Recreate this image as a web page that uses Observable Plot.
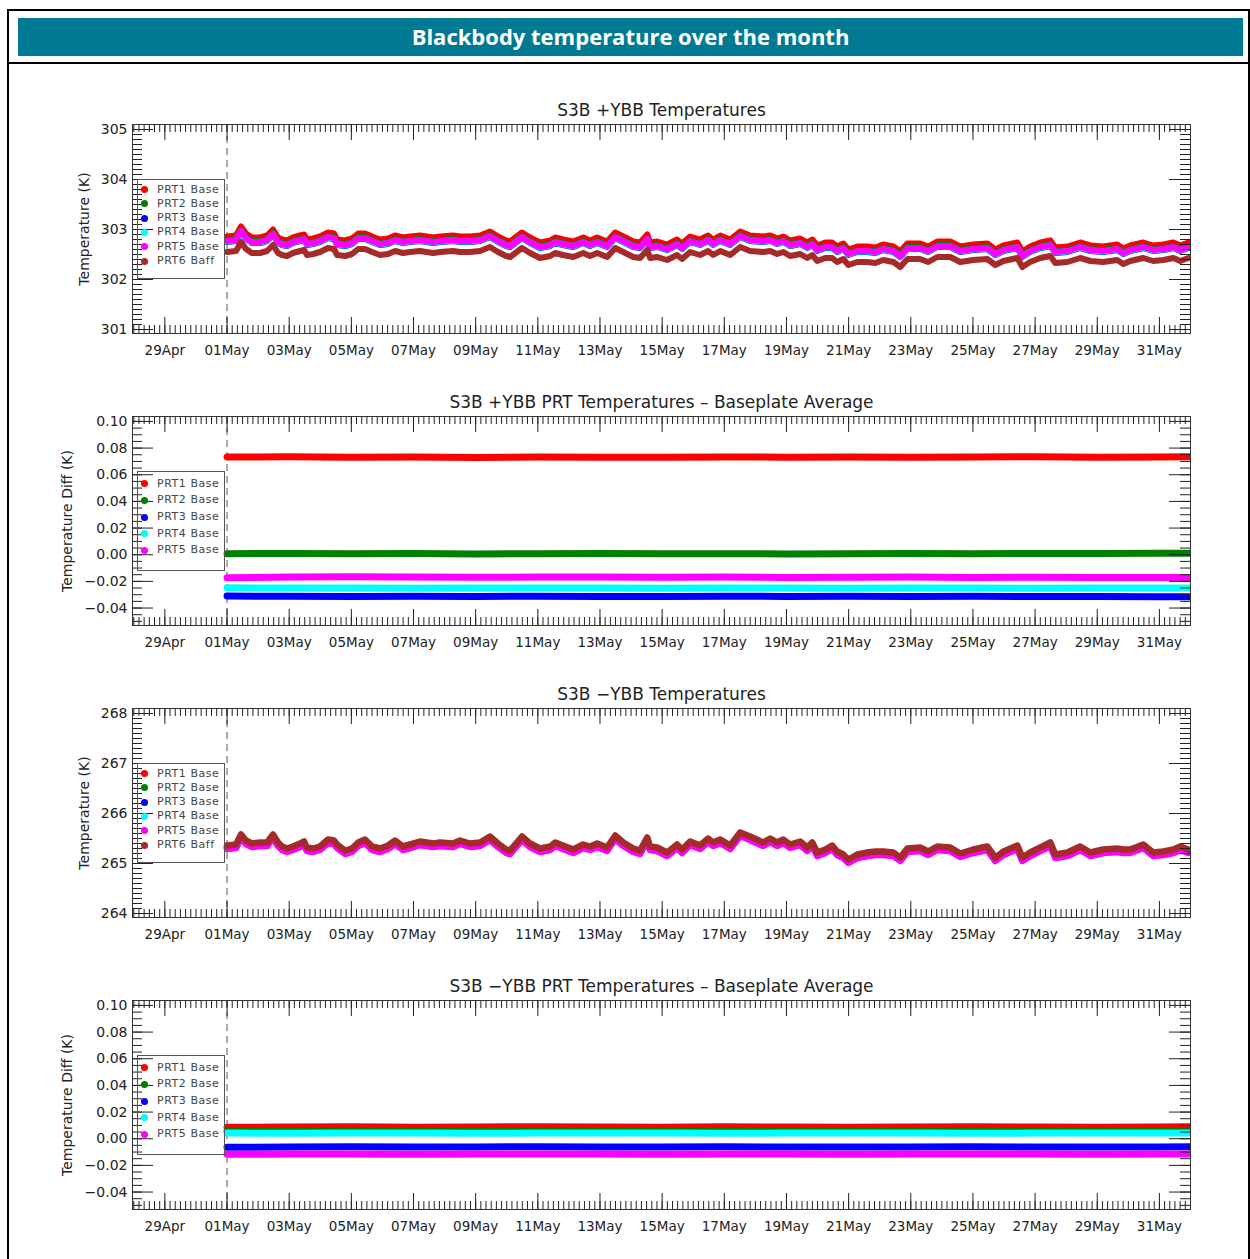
<!DOCTYPE html>
<html>
<head>
<meta charset="utf-8">
<script src="https://cdn.jsdelivr.net/npm/d3@7"></script>
<script src="https://cdn.jsdelivr.net/npm/@observablehq/plot@0.6"></script>
<style>
  body { margin: 0; background: #fff; }
  #page { position: relative; width: 1250px; height: 1259px; overflow: hidden; font-family: "DejaVu Sans", sans-serif; background: #fff; }
  #outer { position: absolute; left: 7px; top: 9px; width: 1243px; height: 1320px; border: 2px solid #000; box-sizing: border-box; }
  #banner { position: absolute; left: 18px; top: 18px; width: 1225px; height: 38px; background: #007a93; color: #fff;
            font-family: "Open Sans", sans-serif; font-weight: 700; font-size: 22px; line-height: 37px; text-align: center; }
  #hline { position: absolute; left: 7px; top: 62px; width: 1243px; height: 2px; background: #000; }
  .panel { position: absolute; left: 0; width: 1250px; }
  .panel svg { display: block; }
  .legend { position: absolute; border: 1px solid #555; box-sizing: border-box; }
  .legend .dot { position: absolute; width: 7px; height: 7px; border-radius: 50%; }
  .legend .lab { position: absolute; font-family: "DejaVu Sans", sans-serif; font-size: 11px; color: #444; letter-spacing: 0.55px; white-space: pre; line-height: 12px; }
</style>
</head>
<body>
<div id="page">
  <div id="outer"></div>
  <div id="banner">Blackbody temperature over the month</div>
  <div id="hline"></div>
</div>
<script>
// ---------- DATA ----------
// sample times, in days of May (1.00 = 01 May 00:00)
const days = [
  1.00, 1.29, 1.45, 1.61, 1.80, 2.06, 2.29, 2.48, 2.64, 2.77,
  2.93, 3.12, 3.35, 3.48, 3.57, 3.77, 3.99, 4.25, 4.44, 4.54,
  4.80, 5.02, 5.22, 5.44, 5.67, 5.92, 6.18, 6.41, 6.66, 6.89,
  7.21, 7.63, 7.86, 8.27, 8.50, 8.82, 9.14, 9.46, 9.72, 9.98,
  10.11, 10.49, 10.75, 11.07, 11.40, 11.56, 11.81, 12.14, 12.46, 12.68,
  12.91, 13.23, 13.49, 13.75, 14.07, 14.29, 14.52, 14.61, 14.84, 15.16,
  15.48, 15.64, 15.90, 16.22, 16.48, 16.64, 16.87, 17.19, 17.51, 17.83,
  18.25, 18.48, 18.70, 18.90, 19.12, 19.44, 19.67, 19.83, 19.99, 20.25,
  20.47, 20.63, 20.83, 20.99, 21.28, 21.60, 21.86, 22.11, 22.44, 22.66,
  22.89, 23.30, 23.56, 23.85, 24.27, 24.59, 25.01, 25.46, 25.72, 25.98,
  26.43, 26.59, 26.84, 27.17, 27.49, 27.65, 28.04, 28.45, 28.78, 29.19,
  29.64, 29.84, 30.06, 30.48, 30.80, 31.13, 31.45, 31.67, 31.93
];

// +YBB temperatures (K)
const pYBB_PRT1 = [
  302.86, 302.88, 303.06, 302.92, 302.84, 302.84, 302.88, 303.00, 302.84, 302.80,
  302.78, 302.84, 302.88, 302.90, 302.80, 302.82, 302.86, 302.94, 302.92, 302.80,
  302.78, 302.82, 302.92, 302.92, 302.86, 302.80, 302.82, 302.88, 302.84, 302.86,
  302.88, 302.84, 302.86, 302.88, 302.86, 302.86, 302.88, 302.96, 302.86, 302.78,
  302.76, 302.94, 302.84, 302.74, 302.78, 302.84, 302.80, 302.76, 302.84, 302.78,
  302.84, 302.76, 302.94, 302.86, 302.76, 302.74, 302.90, 302.74, 302.76, 302.70,
  302.80, 302.72, 302.86, 302.80, 302.88, 302.80, 302.88, 302.80, 302.96, 302.88,
  302.86, 302.88, 302.82, 302.86, 302.78, 302.82, 302.74, 302.80, 302.68, 302.74,
  302.74, 302.66, 302.72, 302.60, 302.66, 302.66, 302.64, 302.70, 302.66, 302.56,
  302.72, 302.72, 302.66, 302.76, 302.76, 302.66, 302.70, 302.72, 302.60, 302.68,
  302.74, 302.56, 302.66, 302.74, 302.78, 302.64, 302.66, 302.74, 302.68, 302.66,
  302.70, 302.62, 302.68, 302.74, 302.68, 302.70, 302.74, 302.68, 302.74
];
const pYBB_PRT2 = [
  302.79, 302.81, 302.99, 302.85, 302.77, 302.77, 302.81, 302.93, 302.77, 302.73,
  302.71, 302.77, 302.81, 302.83, 302.73, 302.75, 302.79, 302.87, 302.85, 302.73,
  302.71, 302.75, 302.85, 302.85, 302.79, 302.73, 302.75, 302.81, 302.77, 302.79,
  302.81, 302.77, 302.79, 302.81, 302.79, 302.79, 302.81, 302.89, 302.79, 302.71,
  302.69, 302.87, 302.77, 302.67, 302.71, 302.77, 302.73, 302.69, 302.77, 302.71,
  302.77, 302.69, 302.87, 302.79, 302.69, 302.67, 302.83, 302.67, 302.69, 302.63,
  302.73, 302.65, 302.79, 302.73, 302.81, 302.73, 302.81, 302.73, 302.89, 302.81,
  302.79, 302.81, 302.75, 302.79, 302.71, 302.75, 302.67, 302.73, 302.61, 302.67,
  302.67, 302.59, 302.65, 302.53, 302.59, 302.59, 302.57, 302.63, 302.59, 302.49,
  302.65, 302.65, 302.59, 302.69, 302.69, 302.59, 302.63, 302.65, 302.53, 302.61,
  302.67, 302.49, 302.59, 302.67, 302.71, 302.57, 302.59, 302.67, 302.61, 302.59,
  302.63, 302.55, 302.61, 302.67, 302.61, 302.63, 302.67, 302.61, 302.67
];
const pYBB_PRT3 = [
  302.75, 302.77, 302.95, 302.81, 302.73, 302.73, 302.77, 302.89, 302.73, 302.69,
  302.67, 302.73, 302.77, 302.79, 302.69, 302.71, 302.75, 302.83, 302.81, 302.69,
  302.67, 302.71, 302.81, 302.81, 302.75, 302.69, 302.71, 302.77, 302.73, 302.75,
  302.77, 302.73, 302.75, 302.77, 302.75, 302.75, 302.77, 302.85, 302.75, 302.67,
  302.65, 302.83, 302.73, 302.63, 302.67, 302.73, 302.69, 302.65, 302.73, 302.67,
  302.73, 302.65, 302.83, 302.75, 302.65, 302.63, 302.79, 302.63, 302.65, 302.59,
  302.69, 302.61, 302.75, 302.69, 302.77, 302.69, 302.77, 302.69, 302.85, 302.77,
  302.75, 302.77, 302.71, 302.75, 302.67, 302.71, 302.63, 302.69, 302.57, 302.63,
  302.63, 302.55, 302.61, 302.49, 302.55, 302.55, 302.53, 302.59, 302.55, 302.45,
  302.61, 302.61, 302.55, 302.65, 302.65, 302.55, 302.59, 302.61, 302.49, 302.57,
  302.63, 302.45, 302.55, 302.63, 302.67, 302.53, 302.55, 302.63, 302.57, 302.55,
  302.59, 302.51, 302.57, 302.63, 302.57, 302.59, 302.63, 302.57, 302.63
];
const pYBB_PRT4 = [
  302.76, 302.78, 302.96, 302.82, 302.74, 302.74, 302.78, 302.90, 302.74, 302.70,
  302.68, 302.74, 302.78, 302.80, 302.70, 302.72, 302.76, 302.84, 302.82, 302.70,
  302.68, 302.72, 302.82, 302.82, 302.76, 302.70, 302.72, 302.78, 302.74, 302.76,
  302.78, 302.74, 302.76, 302.78, 302.76, 302.76, 302.78, 302.86, 302.76, 302.68,
  302.66, 302.84, 302.74, 302.64, 302.68, 302.74, 302.70, 302.66, 302.74, 302.68,
  302.74, 302.66, 302.84, 302.76, 302.66, 302.64, 302.80, 302.64, 302.66, 302.60,
  302.70, 302.62, 302.76, 302.70, 302.78, 302.70, 302.78, 302.70, 302.86, 302.78,
  302.76, 302.78, 302.72, 302.76, 302.68, 302.72, 302.64, 302.70, 302.58, 302.64,
  302.64, 302.56, 302.62, 302.50, 302.56, 302.56, 302.54, 302.60, 302.56, 302.46,
  302.62, 302.62, 302.56, 302.66, 302.66, 302.56, 302.60, 302.62, 302.50, 302.58,
  302.64, 302.46, 302.56, 302.64, 302.68, 302.54, 302.56, 302.64, 302.58, 302.56,
  302.60, 302.52, 302.58, 302.64, 302.58, 302.60, 302.64, 302.58, 302.64
];
const pYBB_PRT5 = [
  302.77, 302.79, 302.97, 302.83, 302.75, 302.75, 302.79, 302.91, 302.75, 302.71,
  302.69, 302.75, 302.79, 302.81, 302.71, 302.73, 302.77, 302.85, 302.83, 302.71,
  302.69, 302.73, 302.83, 302.83, 302.77, 302.71, 302.73, 302.79, 302.75, 302.77,
  302.79, 302.75, 302.77, 302.79, 302.77, 302.77, 302.79, 302.87, 302.77, 302.69,
  302.67, 302.85, 302.75, 302.65, 302.69, 302.75, 302.71, 302.67, 302.75, 302.69,
  302.75, 302.67, 302.85, 302.77, 302.67, 302.65, 302.81, 302.65, 302.67, 302.61,
  302.71, 302.63, 302.77, 302.71, 302.79, 302.71, 302.79, 302.71, 302.87, 302.79,
  302.77, 302.79, 302.73, 302.77, 302.69, 302.73, 302.65, 302.71, 302.59, 302.65,
  302.65, 302.57, 302.63, 302.51, 302.57, 302.57, 302.55, 302.61, 302.57, 302.47,
  302.63, 302.63, 302.57, 302.67, 302.67, 302.57, 302.61, 302.63, 302.51, 302.59,
  302.65, 302.47, 302.57, 302.65, 302.69, 302.55, 302.57, 302.65, 302.59, 302.57,
  302.61, 302.53, 302.59, 302.65, 302.59, 302.61, 302.65, 302.59, 302.65
];
const pYBB_PRT6 = [
  302.55, 302.57, 302.75, 302.61, 302.53, 302.53, 302.57, 302.69, 302.53, 302.49,
  302.47, 302.53, 302.57, 302.59, 302.49, 302.51, 302.55, 302.63, 302.61, 302.49,
  302.47, 302.51, 302.61, 302.61, 302.55, 302.49, 302.51, 302.57, 302.53, 302.55,
  302.57, 302.53, 302.55, 302.57, 302.55, 302.55, 302.57, 302.65, 302.55, 302.47,
  302.45, 302.63, 302.53, 302.43, 302.47, 302.53, 302.49, 302.45, 302.53, 302.47,
  302.53, 302.45, 302.63, 302.55, 302.45, 302.43, 302.59, 302.43, 302.45, 302.39,
  302.49, 302.41, 302.55, 302.49, 302.57, 302.49, 302.57, 302.49, 302.65, 302.57,
  302.55, 302.57, 302.51, 302.55, 302.47, 302.51, 302.43, 302.49, 302.37, 302.43,
  302.43, 302.35, 302.41, 302.29, 302.35, 302.35, 302.33, 302.39, 302.35, 302.25,
  302.41, 302.41, 302.35, 302.45, 302.45, 302.35, 302.39, 302.41, 302.29, 302.37,
  302.43, 302.25, 302.35, 302.43, 302.47, 302.33, 302.35, 302.43, 302.37, 302.35,
  302.39, 302.31, 302.37, 302.43, 302.37, 302.39, 302.43, 302.37, 302.43
];

// -YBB temperatures (K)
const mYBB_PRT1 = [
  265.33, 265.35, 265.55, 265.43, 265.37, 265.39, 265.39, 265.55, 265.39, 265.31,
  265.27, 265.31, 265.37, 265.41, 265.29, 265.27, 265.31, 265.45, 265.43, 265.35,
  265.23, 265.27, 265.39, 265.45, 265.31, 265.27, 265.33, 265.43, 265.31, 265.35,
  265.41, 265.37, 265.39, 265.37, 265.43, 265.37, 265.39, 265.51, 265.37, 265.25,
  265.23, 265.51, 265.37, 265.27, 265.31, 265.39, 265.33, 265.25, 265.35, 265.31,
  265.37, 265.29, 265.53, 265.39, 265.27, 265.23, 265.49, 265.31, 265.29, 265.19,
  265.35, 265.25, 265.41, 265.33, 265.47, 265.39, 265.45, 265.33, 265.59, 265.51,
  265.39, 265.47, 265.39, 265.45, 265.35, 265.41, 265.29, 265.39, 265.19, 265.25,
  265.33, 265.21, 265.15, 265.05, 265.15, 265.19, 265.21, 265.21, 265.19, 265.09,
  265.27, 265.29, 265.21, 265.31, 265.29, 265.17, 265.25, 265.31, 265.09, 265.21,
  265.33, 265.09, 265.19, 265.29, 265.39, 265.15, 265.19, 265.31, 265.19, 265.25,
  265.27, 265.25, 265.25, 265.35, 265.19, 265.21, 265.25, 265.31, 265.25
];
const mYBB_PRT2 = [
  265.32, 265.34, 265.54, 265.42, 265.36, 265.38, 265.38, 265.54, 265.38, 265.30,
  265.26, 265.30, 265.36, 265.40, 265.28, 265.26, 265.30, 265.44, 265.42, 265.34,
  265.22, 265.26, 265.38, 265.44, 265.30, 265.26, 265.32, 265.42, 265.30, 265.34,
  265.40, 265.36, 265.38, 265.36, 265.42, 265.36, 265.38, 265.50, 265.36, 265.24,
  265.22, 265.50, 265.36, 265.26, 265.30, 265.38, 265.32, 265.24, 265.34, 265.30,
  265.36, 265.28, 265.52, 265.38, 265.26, 265.22, 265.48, 265.30, 265.28, 265.18,
  265.34, 265.24, 265.40, 265.32, 265.46, 265.38, 265.44, 265.32, 265.58, 265.50,
  265.38, 265.46, 265.38, 265.44, 265.34, 265.40, 265.28, 265.38, 265.18, 265.24,
  265.32, 265.20, 265.14, 265.04, 265.14, 265.18, 265.20, 265.20, 265.18, 265.08,
  265.26, 265.28, 265.20, 265.30, 265.28, 265.16, 265.24, 265.30, 265.08, 265.20,
  265.32, 265.08, 265.18, 265.28, 265.38, 265.14, 265.18, 265.30, 265.18, 265.24,
  265.26, 265.24, 265.24, 265.34, 265.18, 265.20, 265.24, 265.30, 265.24
];
const mYBB_PRT3 = [
  265.30, 265.32, 265.52, 265.40, 265.34, 265.36, 265.36, 265.52, 265.36, 265.28,
  265.24, 265.28, 265.34, 265.38, 265.26, 265.24, 265.28, 265.42, 265.40, 265.32,
  265.20, 265.24, 265.36, 265.42, 265.28, 265.24, 265.30, 265.40, 265.28, 265.32,
  265.38, 265.34, 265.36, 265.34, 265.40, 265.34, 265.36, 265.48, 265.34, 265.22,
  265.20, 265.48, 265.34, 265.24, 265.28, 265.36, 265.30, 265.22, 265.32, 265.28,
  265.34, 265.26, 265.50, 265.36, 265.24, 265.20, 265.46, 265.28, 265.26, 265.16,
  265.32, 265.22, 265.38, 265.30, 265.44, 265.36, 265.42, 265.30, 265.56, 265.48,
  265.36, 265.44, 265.36, 265.42, 265.32, 265.38, 265.26, 265.36, 265.16, 265.22,
  265.30, 265.18, 265.12, 265.02, 265.12, 265.16, 265.18, 265.18, 265.16, 265.06,
  265.24, 265.26, 265.18, 265.28, 265.26, 265.14, 265.22, 265.28, 265.06, 265.18,
  265.30, 265.06, 265.16, 265.26, 265.36, 265.12, 265.16, 265.28, 265.16, 265.22,
  265.24, 265.22, 265.22, 265.32, 265.16, 265.18, 265.22, 265.28, 265.22
];
const mYBB_PRT4 = [
  265.31, 265.33, 265.53, 265.41, 265.35, 265.37, 265.37, 265.53, 265.37, 265.29,
  265.25, 265.29, 265.35, 265.39, 265.27, 265.25, 265.29, 265.43, 265.41, 265.33,
  265.21, 265.25, 265.37, 265.43, 265.29, 265.25, 265.31, 265.41, 265.29, 265.33,
  265.39, 265.35, 265.37, 265.35, 265.41, 265.35, 265.37, 265.49, 265.35, 265.23,
  265.21, 265.49, 265.35, 265.25, 265.29, 265.37, 265.31, 265.23, 265.33, 265.29,
  265.35, 265.27, 265.51, 265.37, 265.25, 265.21, 265.47, 265.29, 265.27, 265.17,
  265.33, 265.23, 265.39, 265.31, 265.45, 265.37, 265.43, 265.31, 265.57, 265.49,
  265.37, 265.45, 265.37, 265.43, 265.33, 265.39, 265.27, 265.37, 265.17, 265.23,
  265.31, 265.19, 265.13, 265.03, 265.13, 265.17, 265.19, 265.19, 265.17, 265.07,
  265.25, 265.27, 265.19, 265.29, 265.27, 265.15, 265.23, 265.29, 265.07, 265.19,
  265.31, 265.07, 265.17, 265.27, 265.37, 265.13, 265.17, 265.29, 265.17, 265.23,
  265.25, 265.23, 265.23, 265.33, 265.17, 265.19, 265.23, 265.29, 265.23
];
const mYBB_PRT5 = [
  265.29, 265.31, 265.51, 265.39, 265.33, 265.35, 265.35, 265.51, 265.35, 265.27,
  265.23, 265.27, 265.33, 265.37, 265.25, 265.23, 265.27, 265.41, 265.39, 265.31,
  265.19, 265.23, 265.35, 265.41, 265.27, 265.23, 265.29, 265.39, 265.27, 265.31,
  265.37, 265.33, 265.35, 265.33, 265.39, 265.33, 265.35, 265.47, 265.33, 265.21,
  265.19, 265.47, 265.33, 265.23, 265.27, 265.35, 265.29, 265.21, 265.31, 265.27,
  265.33, 265.25, 265.49, 265.35, 265.23, 265.19, 265.45, 265.27, 265.25, 265.15,
  265.31, 265.21, 265.37, 265.29, 265.43, 265.35, 265.41, 265.29, 265.55, 265.47,
  265.35, 265.43, 265.35, 265.41, 265.31, 265.37, 265.25, 265.35, 265.15, 265.21,
  265.29, 265.17, 265.11, 265.01, 265.11, 265.15, 265.17, 265.17, 265.15, 265.05,
  265.23, 265.25, 265.17, 265.27, 265.25, 265.13, 265.21, 265.27, 265.05, 265.17,
  265.29, 265.05, 265.15, 265.25, 265.35, 265.11, 265.15, 265.27, 265.15, 265.21,
  265.23, 265.21, 265.21, 265.31, 265.15, 265.17, 265.21, 265.27, 265.21
];
const mYBB_PRT6 = [
  265.36, 265.38, 265.58, 265.46, 265.40, 265.42, 265.42, 265.58, 265.42, 265.34,
  265.30, 265.34, 265.40, 265.44, 265.32, 265.30, 265.34, 265.48, 265.46, 265.38,
  265.26, 265.30, 265.42, 265.48, 265.34, 265.30, 265.36, 265.46, 265.34, 265.38,
  265.44, 265.40, 265.42, 265.40, 265.46, 265.40, 265.42, 265.54, 265.40, 265.28,
  265.26, 265.54, 265.40, 265.30, 265.34, 265.42, 265.36, 265.28, 265.38, 265.34,
  265.40, 265.32, 265.56, 265.42, 265.30, 265.26, 265.52, 265.34, 265.32, 265.22,
  265.38, 265.28, 265.44, 265.36, 265.50, 265.42, 265.48, 265.36, 265.62, 265.54,
  265.42, 265.50, 265.42, 265.48, 265.38, 265.44, 265.32, 265.42, 265.22, 265.28,
  265.36, 265.24, 265.18, 265.08, 265.18, 265.22, 265.24, 265.24, 265.22, 265.12,
  265.30, 265.32, 265.24, 265.34, 265.32, 265.20, 265.28, 265.34, 265.12, 265.24,
  265.36, 265.12, 265.22, 265.32, 265.42, 265.18, 265.22, 265.34, 265.22, 265.28,
  265.30, 265.28, 265.28, 265.38, 265.22, 265.24, 265.28, 265.34, 265.28
];

// PRT minus baseplate average (K), sampled every two days
const diffDays = [1, 3, 5, 7, 9, 11, 13, 15, 17, 19, 21, 23, 25, 27, 29, 31, 32];
const pDiff_PRT1 = [0.0733, 0.0735, 0.0731, 0.0733, 0.0730, 0.0734, 0.0732, 0.0731, 0.0733, 0.0732, 0.0734, 0.0731, 0.0733, 0.0735, 0.0732, 0.0734, 0.0735];
const pDiff_PRT2 = [0.0008, 0.0010, 0.0007, 0.0009, 0.0006, 0.0008, 0.0009, 0.0007, 0.0008, 0.0006, 0.0008, 0.0009, 0.0007, 0.0010, 0.0009, 0.0011, 0.0012];
const pDiff_PRT3 = [-0.0310, -0.0312, -0.0314, -0.0311, -0.0313, -0.0312, -0.0314, -0.0313, -0.0311, -0.0313, -0.0312, -0.0314, -0.0312, -0.0313, -0.0314, -0.0315, -0.0316];
const pDiff_PRT4 = [-0.0248, -0.0250, -0.0249, -0.0251, -0.0250, -0.0249, -0.0250, -0.0251, -0.0249, -0.0250, -0.0251, -0.0249, -0.0250, -0.0251, -0.0250, -0.0250, -0.0249];
const pDiff_PRT5 = [-0.0172, -0.0168, -0.0165, -0.0167, -0.0169, -0.0168, -0.0167, -0.0169, -0.0168, -0.0170, -0.0169, -0.0168, -0.0170, -0.0169, -0.0170, -0.0171, -0.0170];

const mDiff_PRT1 = [0.0086, 0.0088, 0.0089, 0.0087, 0.0088, 0.0090, 0.0088, 0.0087, 0.0089, 0.0088, 0.0087, 0.0088, 0.0089, 0.0088, 0.0087, 0.0088, 0.0089];
const mDiff_PRT2 = [0.0058, 0.0060, 0.0061, 0.0059, 0.0060, 0.0061, 0.0060, 0.0059, 0.0060, 0.0061, 0.0059, 0.0060, 0.0061, 0.0060, 0.0059, 0.0060, 0.0061];
const mDiff_PRT3 = [-0.0064, -0.0062, -0.0061, -0.0063, -0.0062, -0.0060, -0.0062, -0.0063, -0.0061, -0.0062, -0.0063, -0.0062, -0.0061, -0.0062, -0.0063, -0.0062, -0.0061];
const mDiff_PRT4 = [0.0042, 0.0041, 0.0043, 0.0042, 0.0041, 0.0042, 0.0043, 0.0042, 0.0041, 0.0042, 0.0043, 0.0042, 0.0041, 0.0042, 0.0043, 0.0042, 0.0043];
const mDiff_PRT5 = [-0.0117, -0.0115, -0.0114, -0.0116, -0.0115, -0.0114, -0.0115, -0.0116, -0.0115, -0.0114, -0.0116, -0.0115, -0.0114, -0.0115, -0.0116, -0.0115, -0.0114];

const seriesNames = ["PRT1 Base", "PRT2 Base", "PRT3 Base", "PRT4 Base", "PRT5 Base", "PRT6 Baff"];
const seriesColors = ["#ff0000", "#008000", "#0000ff", "#00ffff", "#ff00ff", "#a52a2a"];

const xTickDates = ["2019-04-29", "2019-05-01", "2019-05-03", "2019-05-05", "2019-05-07", "2019-05-09", "2019-05-11", "2019-05-13",
                    "2019-05-15", "2019-05-17", "2019-05-19", "2019-05-21", "2019-05-23", "2019-05-25", "2019-05-27", "2019-05-29", "2019-05-31"];
const xTickLabels = ["29Apr", "01May", "03May", "05May", "07May", "09May", "11May", "13May",
                     "15May", "17May", "19May", "21May", "23May", "25May", "27May", "29May", "31May"];

const plusTempTicks = [301, 302, 303, 304, 305];
const plusTempLabels = ["301", "302", "303", "304", "305"];
const minusTempTicks = [264, 265, 266, 267, 268];
const minusTempLabels = ["264", "265", "266", "267", "268"];
const diffTicks = [-0.04, -0.02, 0, 0.02, 0.04, 0.06, 0.08, 0.10];
const diffLabels = ["\u22120.04", "\u22120.02", "0.00", "0.02", "0.04", "0.06", "0.08", "0.10"];

const titles = [
  "S3B +YBB Temperatures",
  "S3B +YBB PRT Temperatures \u2013 Baseplate Average",
  "S3B \u2212YBB Temperatures",
  "S3B \u2212YBB PRT Temperatures \u2013 Baseplate Average"
];

// ---------- LAYOUT ----------
const W = 1250, ML = 132, MR = 60, MT = 40, MB = 40, FH = 209;
const FW = W - ML - MR;
const dayToDate = d => new Date(Date.UTC(2019, 3, 30) + d * 864e5);
const xDomain = [new Date(Date.UTC(2019, 3, 27, 23)), new Date(Date.UTC(2019, 5, 1))];
const dashDate = new Date(Date.UTC(2019, 4, 1));
const xMajor = xTickDates.map(s => new Date(s + "T00:00:00Z"));
const xMinor = d3.utcHour.every(4).range(new Date(Date.UTC(2019, 3, 28)), new Date(Date.UTC(2019, 5, 1, 1)));

function minorTicks(lo, hi, step) {
  const out = [];
  const n0 = Math.ceil(lo / step - 1e-6), n1 = Math.floor(hi / step + 1e-6);
  for (let n = n0; n <= n1; n++) out.push(+(n * step).toFixed(6));
  return out;
}

function makePanel(cfg) {
  const page = document.getElementById("page");
  const wrap = document.createElement("div");
  wrap.className = "panel";
  wrap.style.top = (cfg.frameTop - MT) + "px";

  const lineMarks = cfg.series.map(s => {
    const rows = s.values.map((v, i) => ({t: dayToDate(cfg.times[i]), v}));
    return Plot.line(rows, {x: "t", y: "v", stroke: s.color, strokeWidth: cfg.sw, strokeLinejoin: "round", strokeLinecap: "round", clip: true});
  });
  const yMinor = minorTicks(cfg.yDomain[0], cfg.yDomain[1], cfg.minorStep);
  const tk = {stroke: "#222", strokeWidth: 1};

  const chart = Plot.plot({
    width: W, height: MT + FH + MB,
    marginLeft: ML, marginRight: MR, marginTop: MT, marginBottom: MB,
    style: {fontFamily: "'DejaVu Sans', sans-serif", background: "transparent", overflow: "visible", color: "#222"},
    x: {type: "utc", domain: xDomain, axis: null},
    y: {domain: cfg.yDomain, axis: null},
    marks: [
      Plot.ruleX([dashDate], {stroke: "#555", strokeWidth: 1, strokeDasharray: "7,5"}),
      ...lineMarks,
      Plot.tickX(xMinor, {x: d => d, insetTop: FH - 8, ...tk}),
      Plot.tickX(xMinor, {x: d => d, insetBottom: FH - 8, ...tk}),
      Plot.tickX(xMajor, {x: d => d, insetTop: FH - 16, ...tk}),
      Plot.tickX(xMajor, {x: d => d, insetBottom: FH - 16, ...tk}),
      Plot.tickY(yMinor, {y: d => d, insetRight: FW - 10, ...tk}),
      Plot.tickY(yMinor, {y: d => d, insetLeft: FW - 10, ...tk}),
      Plot.tickY(cfg.yTicks, {y: d => d, insetRight: FW - 21, ...tk}),
      Plot.tickY(cfg.yTicks, {y: d => d, insetLeft: FW - 21, ...tk}),
      Plot.frame({stroke: "#333", strokeWidth: 1}),
      Plot.text([cfg.title], {frameAnchor: "top", lineAnchor: "middle", dy: -14, fontSize: 17, fill: "#222", letterSpacing: "0.5px"}),
      Plot.text(xMajor, {x: d => d, text: (d, i) => xTickLabels[i], frameAnchor: "bottom", lineAnchor: "middle", dy: 17.5, fontSize: 13.5, fill: "#222"}),
      Plot.text(cfg.yTicks, {y: d => d, text: (d, i) => cfg.yLabels[i], frameAnchor: "left", textAnchor: "end", dx: -5, fontSize: 14, fill: "#222"}),
      Plot.text([cfg.yTitle], {frameAnchor: "left", textAnchor: "middle", lineAnchor: "middle", rotate: -90, dx: cfg.yTitleX - ML, fontSize: 14, fill: "#222"})
    ]
  });
  wrap.appendChild(chart);

  // legend
  const n = cfg.series.length;
  const lg = document.createElement("div");
  lg.className = "legend";
  lg.style.left = "137px";
  lg.style.top = (MT + 54.5) + "px";
  lg.style.width = "88px";
  lg.style.height = "100px";
  const first = n === 6 ? 11 : 13.3, step = n === 6 ? 14.33 : 16.67;
  cfg.series.forEach((s, i) => {
    const cy = first + i * step;
    const dot = document.createElement("div");
    dot.className = "dot";
    dot.style.background = s.color;
    dot.style.left = (7 - 3.5 - 1) + "px";
    dot.style.top = (cy - 3.5 - 1) + "px";
    lg.appendChild(dot);
    const lab = document.createElement("div");
    lab.className = "lab";
    lab.textContent = s.name;
    lab.style.left = (20 - 1) + "px";
    lab.style.top = (cy - 6 - 1) + "px";
    lg.appendChild(lab);
  });
  wrap.appendChild(lg);
  page.appendChild(wrap);
}

const mk = (vals) => vals.map((values, i) => ({name: seriesNames[i], color: seriesColors[i], values}));

makePanel({
  frameTop: 124, title: titles[0], yTitle: "Temperature (K)", yTitleX: 84,
  yDomain: [300.92, 305.10], yTicks: plusTempTicks, yLabels: plusTempLabels, minorStep: 0.1,
  times: days, sw: 6,
  series: mk([pYBB_PRT1, pYBB_PRT2, pYBB_PRT3, pYBB_PRT4, pYBB_PRT5, pYBB_PRT6])
});
makePanel({
  frameTop: 416, title: titles[1], yTitle: "Temperature Diff (K)", yTitleX: 67,
  yDomain: [-0.0531, 0.1037], yTicks: diffTicks, yLabels: diffLabels, minorStep: 0.005,
  times: diffDays, sw: 7,
  series: mk([pDiff_PRT1, pDiff_PRT2, pDiff_PRT3, pDiff_PRT4, pDiff_PRT5])
});
makePanel({
  frameTop: 708, title: titles[2], yTitle: "Temperature (K)", yTitleX: 84,
  yDomain: [263.92, 268.10], yTicks: minusTempTicks, yLabels: minusTempLabels, minorStep: 0.1,
  times: days, sw: 6.5,
  series: mk([mYBB_PRT1, mYBB_PRT2, mYBB_PRT3, mYBB_PRT4, mYBB_PRT5, mYBB_PRT6])
});
makePanel({
  frameTop: 1000, title: titles[3], yTitle: "Temperature Diff (K)", yTitleX: 67,
  yDomain: [-0.0531, 0.1037], yTicks: diffTicks, yLabels: diffLabels, minorStep: 0.005,
  times: diffDays, sw: 7,
  series: mk([mDiff_PRT1, mDiff_PRT2, mDiff_PRT3, mDiff_PRT4, mDiff_PRT5])
});
</script>
</body>
</html>
